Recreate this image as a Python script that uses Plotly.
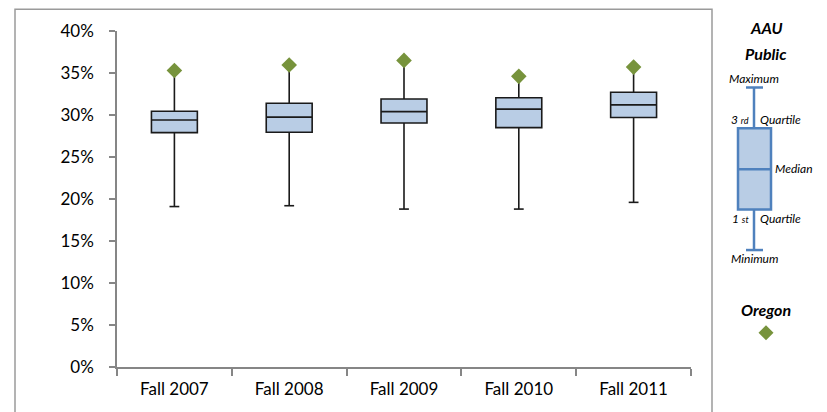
import plotly.graph_objects as go

categories = ["Fall 2007", "Fall 2008", "Fall 2009", "Fall 2010", "Fall 2011"]
aau_min = [19.1, 19.2, 18.8, 18.8, 19.6]
aau_q1 = [27.9, 27.95, 29.05, 28.5, 29.7]
aau_median = [29.4, 29.75, 30.4, 30.7, 31.2]
aau_q3 = [30.45, 31.4, 31.9, 32.05, 32.7]
aau_max = [35.3, 35.95, 36.5, 34.6, 35.7]
oregon = [35.3, 35.95, 36.5, 34.6, 35.7]
y_ticks = [0, 5, 10, 15, 20, 25, 30, 35, 40]
y_tick_labels = ["0%", "5%", "10%", "15%", "20%", "25%", "30%", "35%", "40%"]

# page body has an 8px default margin; figure is sized so that it fills the window
OFF = 8
W, H = 827 - OFF, 412 - OFF
# plot area in window pixel coordinates
L, R, T, B = 117, 691, 28, 367
FONT = "Lato"


def px(x):
    return (x - L) / (R - L)


def py(y):
    return (B - y) / (B - T)


fig = go.Figure()

fig.add_trace(go.Box(
    x=categories,
    q1=aau_q1, median=aau_median, q3=aau_q3,
    lowerfence=aau_min, upperfence=aau_max,
    width=0.4,
    fillcolor="#B9CDE5",
    line=dict(color="#1a1a1a", width=1.6),
    whiskerwidth=0,
    boxpoints=False,
    hoverinfo="skip",
    showlegend=False,
))

fig.add_trace(go.Scatter(
    x=categories + categories, y=aau_min + aau_max,
    mode="markers",
    marker=dict(symbol="line-ew", size=7, line=dict(color="#1a1a1a", width=1.6)),
    hoverinfo="skip", showlegend=False,
))

fig.add_trace(go.Scatter(
    x=categories, y=oregon,
    mode="markers",
    marker=dict(symbol="diamond", size=12, color="#77933C", line=dict(width=0)),
    hoverinfo="skip", showlegend=False,
))

shapes = []
# outer chart border
shapes.append(dict(type="rect", xref="paper", yref="paper",
                   x0=px(15), x1=px(712), y0=py(430), y1=py(6),
                   line=dict(color="#9a9a9a", width=1.5), fillcolor="rgba(0,0,0,0)", layer="below"))
# legend schematic box
blue = "#4F81BD"
lx = 754
shapes.append(dict(type="line", xref="paper", yref="paper", x0=px(lx), x1=px(lx), y0=py(85), y1=py(126),
                   line=dict(color=blue, width=2.5)))
shapes.append(dict(type="line", xref="paper", yref="paper", x0=px(lx), x1=px(lx), y0=py(208), y1=py(249),
                   line=dict(color=blue, width=2.5)))
shapes.append(dict(type="line", xref="paper", yref="paper", x0=px(746), x1=px(763), y0=py(85), y1=py(85),
                   line=dict(color=blue, width=2.5)))
shapes.append(dict(type="line", xref="paper", yref="paper", x0=px(746), x1=px(763), y0=py(249), y1=py(249),
                   line=dict(color=blue, width=2.5)))
shapes.append(dict(type="rect", xref="paper", yref="paper", x0=px(738), x1=px(771), y0=py(208), y1=py(126),
                   line=dict(color=blue, width=2.5), fillcolor="#B9CDE5"))
shapes.append(dict(type="line", xref="paper", yref="paper", x0=px(738), x1=px(771), y0=py(167.5), y1=py(167.5),
                   line=dict(color=blue, width=2.5)))
# Oregon legend diamond
shapes.append(dict(type="path", xref="paper", yref="paper",
                   path=f"M {px(766)} {py(325)} L {px(773.5)} {py(332.5)} L {px(766)} {py(340)} L {px(758.5)} {py(332.5)} Z",
                   line=dict(width=0), fillcolor="#77933C"))

ann = []


def add_text(x, y, text, size, xanchor="center"):
    ann.append(dict(xref="paper", yref="paper", x=px(x), y=py(y), text=text, showarrow=False,
                    xanchor=xanchor, yanchor="middle", font=dict(family=FONT, size=size, color="#000000")))


add_text(766, 24, "<b><i>AAU</i></b>", 16)
add_text(766, 51, "<b><i>Public</i></b>", 16)
add_text(754, 76, "<i>Maximum</i>", 12)
add_text(751, 117, "<i>3 <span style='font-size:9px'>rd</span></i>", 12, "right")
add_text(758, 117, "<i>Quartile</i>", 12, "left")
add_text(773, 167, "<i>Median</i>", 12, "left")
add_text(751, 217, "<i>1 <span style='font-size:9px'>st</span></i>", 12, "right")
add_text(758, 217, "<i>Quartile</i>", 12, "left")
add_text(754, 258, "<i>Minimum</i>", 12)
add_text(766, 309, "<b><i>Oregon</i></b>", 16)

fig.update_layout(
    width=W, height=H,
    margin=dict(l=L - OFF, r=827 - R, t=T - OFF, b=412 - B, pad=0),
    paper_bgcolor="white", plot_bgcolor="white",
    font=dict(family=FONT, size=17, color="#000000"),
    shapes=shapes, annotations=ann,
    showlegend=False,
)
fig.update_xaxes(
    type="category", range=[-0.5, 4.5],
    showline=True, linecolor="#868686", linewidth=1.5,
    ticks="outside", tickson="boundaries", ticklen=7, tickcolor="#868686", tickwidth=1.5,
    showgrid=False, zeroline=False, ticklabelstandoff=6,
)
fig.update_yaxes(
    range=[0, 40], tickmode="array", tickvals=y_ticks, ticktext=y_tick_labels,
    showline=True, linecolor="#868686", linewidth=1.5,
    ticks="outside", ticklen=6, tickcolor="#868686", tickwidth=1.5,
    showgrid=False, zeroline=False, ticklabelstandoff=12,
)

fig.write_html("out.html")
